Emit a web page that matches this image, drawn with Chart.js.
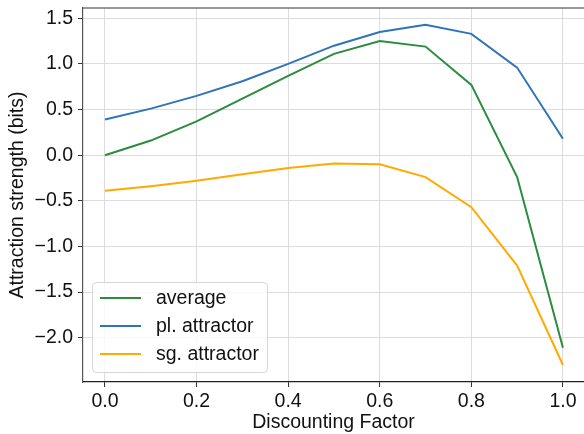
<!DOCTYPE html>
<html>
<head>
<meta charset="utf-8">
<script src="https://cdn.jsdelivr.net/npm/chart.js@4.4.0/dist/chart.umd.min.js"></script>
<style>
  html, body { margin: 0; padding: 0; background: #fff; }
  #wrap { width: 584px; height: 434px; position: relative; }
</style>
</head>
<body>
<div id="wrap"><canvas id="myChart" width="584" height="434"></canvas></div>
<script>
// discounting factor values (x)
var factors = [0.0, 0.1, 0.2, 0.3, 0.4, 0.5, 0.6, 0.7, 0.8, 0.9, 1.0];

// attraction strength per series
var average = [0.00, 0.16, 0.37, 0.62, 0.87, 1.11, 1.25, 1.19, 0.77, -0.24, -2.11];
var plAttractor = [0.39, 0.51, 0.65, 0.81, 1.00, 1.20, 1.35, 1.43, 1.33, 0.96, 0.18];
var sgAttractor = [-0.39, -0.34, -0.28, -0.21, -0.14, -0.09, -0.10, -0.24, -0.57, -1.21, -2.30];

var xTicks = [0.0, 0.2, 0.4, 0.6, 0.8, 1.0];
var yTicks = [-2.0, -1.5, -1.0, -0.5, 0.0, 0.5, 1.0, 1.5];

var FONT = "'Liberation Sans', Arial, Helvetica, sans-serif";
var FSIZE = 19.5;

function toPoints(ys) {
    return factors.map(function (x, i) { return { x: x, y: ys[i] }; });
}

function fmt(v) {
    var s = Math.abs(v).toFixed(1);
    return v < -1e-9 ? "\u2212" + s : s;
}

// top spine + legend box like matplotlib
var extras = {
    id: "extras",
    afterDraw: function (chart) {
        var c = chart.ctx, a = chart.chartArea;
        c.save();
        c.strokeStyle = "#333";
        c.lineWidth = 1.2;
        c.beginPath();
        c.moveTo(a.left, a.top);
        c.lineTo(a.right, a.top);
        c.stroke();

        // legend
        var bx = 92.5, by = 282.5, bw = 175, bh = 90, r = 4;
        c.fillStyle = "rgba(255,255,255,0.8)";
        c.strokeStyle = "#d6d6d6";
        c.lineWidth = 1;
        c.beginPath();
        c.roundRect(bx, by, bw, bh, r);
        c.fill();
        c.stroke();

        c.font = FSIZE + "px " + FONT;
        c.textBaseline = "middle";
        c.textAlign = "left";
        chart.data.datasets.forEach(function (ds, i) {
            var y = 298 + i * 28;
            c.strokeStyle = ds.borderColor;
            c.lineWidth = 2;
            c.beginPath();
            c.moveTo(100, y);
            c.lineTo(141, y);
            c.stroke();
            c.fillStyle = "#111";
            c.fillText(ds.label, 156, y + 1);
        });
        c.restore();
    }
};

var ctx = document.getElementById("myChart").getContext("2d");
var myChart = new Chart(ctx, {
    type: "line",
    data: {
        datasets: [
            {
                label: "average",
                data: toPoints(average),
                borderColor: "#2a8c3f",
                borderWidth: 2,
                pointRadius: 0,
                tension: 0
            },
            {
                label: "pl. attractor",
                data: toPoints(plAttractor),
                borderColor: "#2f74b8",
                borderWidth: 2,
                pointRadius: 0,
                tension: 0
            },
            {
                label: "sg. attractor",
                data: toPoints(sgAttractor),
                borderColor: "#ffaa00",
                borderWidth: 2,
                pointRadius: 0,
                tension: 0
            }
        ]
    },
    options: {
        responsive: false,
        animation: false,
        layout: { padding: { top: 8, right: 0, left: 0, bottom: 0 } },
        plugins: {
            legend: { display: false },
            tooltip: { enabled: false }
        },
        scales: {
            x: {
                type: "linear",
                min: -0.048,
                max: 1.046,
                afterBuildTicks: function (scale) {
                    scale.ticks = xTicks.map(function (v) { return { value: v }; });
                },
                afterFit: function (scale) {
                    scale.height = 52;
                    scale.paddingLeft = 0;
                    scale.paddingRight = 0;
                },
                ticks: {
                    autoSkip: false,
                    maxRotation: 0,
                    padding: 3,
                    color: "#111",
                    font: { size: FSIZE, family: FONT },
                    callback: function (v) { return fmt(v); }
                },
                grid: {
                    color: "#dcdcdc",
                    lineWidth: 1,
                    tickLength: 5,
                    tickColor: "#333"
                },
                border: { color: "#222", width: 1.2 },
                title: {
                    display: true,
                    text: "Discounting Factor",
                    color: "#111",
                    font: { size: FSIZE, family: FONT },
                    padding: { top: 0, bottom: 0 }
                }
            },
            y: {
                min: -2.486,
                max: 1.613,
                afterBuildTicks: function (scale) {
                    scale.ticks = yTicks.map(function (v) { return { value: v }; });
                },
                afterFit: function (scale) {
                    scale.width = 83;
                    scale.paddingTop = 0;
                    scale.paddingBottom = 0;
                },
                ticks: {
                    autoSkip: false,
                    padding: 5,
                    color: "#111",
                    font: { size: FSIZE, family: FONT },
                    callback: function (v) { return fmt(v); }
                },
                grid: {
                    color: "#dcdcdc",
                    lineWidth: 1,
                    tickLength: 5,
                    tickColor: "#333"
                },
                border: { color: "#555", width: 1.2 },
                title: {
                    display: true,
                    text: "Attraction strength (bits)",
                    color: "#111",
                    font: { size: FSIZE, family: FONT },
                    padding: { top: 6, bottom: 0 }
                }
            }
        }
    },
    plugins: [extras]
});
</script>
</body>
</html>
